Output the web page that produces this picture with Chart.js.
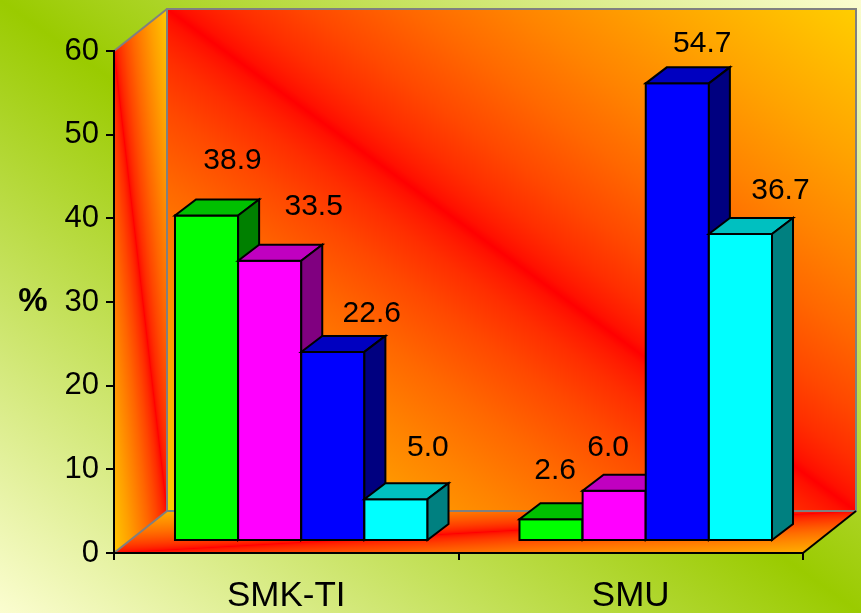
<!DOCTYPE html>
<html>
<head>
<meta charset="utf-8">
<title>SMK-TI / SMU</title>
<script src="https://cdn.jsdelivr.net/npm/chart.js@4"></script>
<style>
  html, body { margin: 0; padding: 0; background: #fff; overflow: hidden; }
  #chart { display: block; }
</style>
</head>
<body>
<canvas id="chart" width="861" height="613"></canvas>
<script>
// ---- data ----
const categories = ['SMK-TI', 'SMU'];
const series1 = [38.9, 2.6];   // green
const series2 = [33.5, 6.0];   // magenta
const series3 = [22.6, 54.7];  // blue
const series4 = [5.0, 36.7];   // cyan
const yTicks = [0, 10, 20, 30, 40, 50, 60];

// ---- style ----
const FONT = '"Liberation Sans", Arial, sans-serif';
const faces = [
  { front: '#00ff00', top: '#00c000', side: '#008000' },
  { front: '#ff00ff', top: '#c000c0', side: '#800080' },
  { front: '#0000ff', top: '#0000c0', side: '#000080' },
  { front: '#00ffff', top: '#00c0c0', side: '#008080' }
];
// label nudges [dx, dy] per series, per category (labels were hand placed)
const labelNudge = [
  [[0, -8], [-22, -2]],
  [[18, -7], [-32, 4]],
  [[13, 9], [-1, 7]],
  [[6, -4], [14, 4]]
];

const WALL = { dx: 53, dy: -42 };   // depth of the box
const ROW = { dx: 15, dy: -12 };    // bars stand a bit behind the front plane
const BAR = { dx: 21, dy: -16 };    // depth of each bar

// red line on one diagonal, fading to yellow quickly then slowly
function addFire(g, edgeG) {
  const steps = [0, 0.02, 0.05, 0.1, 0.2, 0.35, 0.5, 0.7, 1];
  steps.forEach(f => {
    const col = 'rgb(255,' + Math.round(edgeG * Math.pow(f, 0.65)) + ',0)';
    g.addColorStop(0.5 - f / 2, col);
    g.addColorStop(0.5 + f / 2, col);
  });
}

// fills a parallelogram, gradient laid out in its own unit square
function fillQuad(ctx, o, u, v, paint) {
  ctx.save();
  ctx.transform(u[0], u[1], v[0], v[1], o[0], o[1]);
  const g = ctx.createLinearGradient(0, 1, 1, 0);
  paint(g);
  ctx.fillStyle = g;
  ctx.fillRect(0, 0, 1, 1);
  ctx.restore();
}

function line(ctx, pts, color, w) {
  ctx.beginPath();
  ctx.moveTo(pts[0][0], pts[0][1]);
  for (let i = 1; i < pts.length; i++) ctx.lineTo(pts[i][0], pts[i][1]);
  ctx.strokeStyle = color;
  ctx.lineWidth = w;
  ctx.stroke();
}

function poly(ctx, pts, fill) {
  ctx.beginPath();
  ctx.moveTo(pts[0][0], pts[0][1]);
  for (let i = 1; i < pts.length; i++) ctx.lineTo(pts[i][0], pts[i][1]);
  ctx.closePath();
  ctx.fillStyle = fill;
  ctx.fill();
  ctx.strokeStyle = '#000';
  ctx.lineWidth = 2;
  ctx.lineJoin = 'miter';
  ctx.stroke();
}

const boxPlugin = {
  id: 'box3d',
  beforeDraw(chart) {
    const { ctx, width, height, chartArea: a } = chart;
    // page background
    fillQuad(ctx, [0, 0], [width, 0], [0, height], g => {
      g.addColorStop(0, '#fbfdd0');
      g.addColorStop(0.5, '#9acb00');
      g.addColorStop(1, '#fbfdd0');
    });
    const w = a.right - a.left, h = a.bottom - a.top;
    // back wall, side wall, floor
    fillQuad(ctx, [a.left + WALL.dx, a.top + WALL.dy], [w, 0], [0, h], g => addFire(g, 206));
    fillQuad(ctx, [a.left, a.top], [WALL.dx, WALL.dy], [0, h], g => addFire(g, 200));
    fillQuad(ctx, [a.left, a.bottom], [w, 0], [WALL.dx, WALL.dy], g => addFire(g, 175));
    const gray = '#808080';
    ctx.strokeStyle = gray;
    ctx.lineWidth = 2;
    ctx.strokeRect(a.left + WALL.dx, a.top + WALL.dy, w, h);
    line(ctx, [[a.left, a.top], [a.left + WALL.dx, a.top + WALL.dy]], gray, 2);
    line(ctx, [[a.left, a.bottom], [a.left + WALL.dx, a.bottom + WALL.dy]], gray, 2);
    line(ctx, [[a.right, a.bottom], [a.right + WALL.dx, a.bottom + WALL.dy]], '#000', 2);
  },
  afterDatasetsDraw(chart) {
    const ctx = chart.ctx;
    const n = chart.data.datasets.length;
    ctx.save();
    for (let i = 0; i < categories.length; i++) {
      for (let d = 0; d < n; d++) {
        const el = chart.getDatasetMeta(d).data[i];
        const c = faces[d];
        const x0 = el.x - el.width / 2 + ROW.dx, x1 = el.x + el.width / 2 + ROW.dx;
        const yt = el.y + ROW.dy, yb = el.base + ROW.dy;
        poly(ctx, [[x0, yt], [x1, yt], [x1, yb], [x0, yb]], c.front);
        poly(ctx, [[x0, yt], [x1, yt], [x1 + BAR.dx, yt + BAR.dy], [x0 + BAR.dx, yt + BAR.dy]], c.top);
        poly(ctx, [[x1, yt], [x1 + BAR.dx, yt + BAR.dy], [x1 + BAR.dx, yb + BAR.dy], [x1, yb]], c.side);
      }
    }
    // value labels
    ctx.fillStyle = '#000';
    ctx.font = '30px ' + FONT;
    ctx.textAlign = 'center';
    ctx.textBaseline = 'middle';
    for (let d = 0; d < n; d++) {
      const meta = chart.getDatasetMeta(d);
      const vals = chart.data.datasets[d].data;
      meta.data.forEach((el, i) => {
        const nd = labelNudge[d][i];
        const lx = el.x + ROW.dx + 26 + nd[0];
        const ly = el.y + ROW.dy - 47 + nd[1];
        ctx.fillText(vals[i].toFixed(1), lx, ly);
      });
    }
    // axis unit
    ctx.font = 'bold 33px ' + FONT;
    ctx.fillText('%', 33, (chart.chartArea.top + chart.chartArea.bottom) / 2);
    ctx.restore();
  }
};

const clear = 'rgba(0,0,0,0)';
new Chart(document.getElementById('chart'), {
  type: 'bar',
  data: {
    labels: categories,
    datasets: [series1, series2, series3, series4].map((s, k) => ({
      label: 'Series ' + (k + 1),
      data: s,
      backgroundColor: clear,
      borderWidth: 0,
      categoryPercentage: 0.733,
      barPercentage: 1
    }))
  },
  options: {
    responsive: false,
    animation: false,
    devicePixelRatio: 1,
    layout: { padding: { top: 51, right: 58, left: 0, bottom: 0 } },
    plugins: { legend: { display: false }, tooltip: { enabled: false } },
    scales: {
      x: {
        offset: true,
        grid: { display: true, offset: true, drawOnChartArea: false, color: '#000', lineWidth: 2, tickLength: 7 },
        border: { color: '#000', width: 2 },
        ticks: { color: '#000', font: { family: FONT, size: 35 }, padding: 15 },
        afterFit: s => { s.height = 60; }
      },
      y: {
        min: 0,
        max: 60,
        afterBuildTicks: s => { s.ticks = yTicks.map(v => ({ value: v })); },
        grid: { drawOnChartArea: false, color: '#000', lineWidth: 2, tickLength: 8 },
        border: { color: '#000', width: 2 },
        ticks: { color: '#000', font: { family: FONT, size: 31 }, padding: 7 },
        afterFit: s => { s.width = 114; }
      }
    }
  },
  plugins: [boxPlugin]
});
</script>
</body>
</html>
